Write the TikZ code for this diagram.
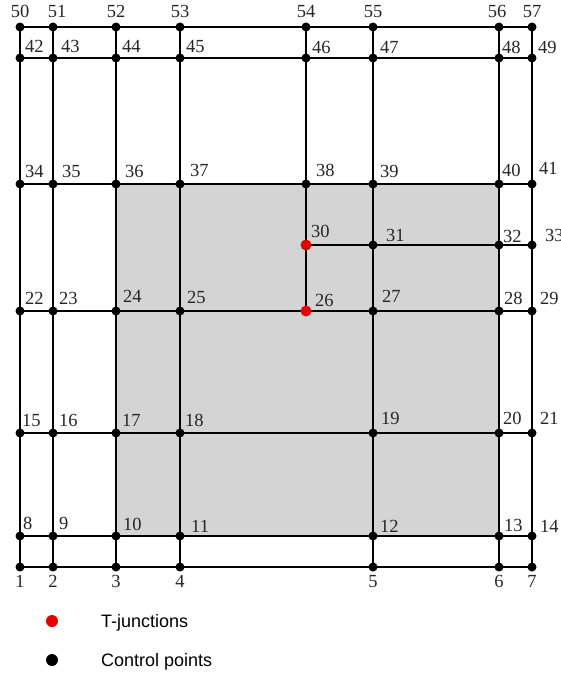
\documentclass[tikz,border=0pt]{standalone}
\usepackage{fontspec}
\setmainfont{Liberation Serif}
\newfontfamily\keyfont{Liberation Sans}
\usepackage{tikz}
\usetikzlibrary{backgrounds}
\definecolor{tjred}{RGB}{226,0,0}
\definecolor{panelgray}{RGB}{212,212,212}
\tikzset{
  cp/.style={circle, fill=black, inner sep=0, minimum size=9},
  tj/.style={circle, fill=tjred, inner sep=0, minimum size=11},
  num/.style={text=black!85, font=\fontsize{18.5}{20}\selectfont, inner sep=0, anchor=south west},
  keytext/.style={font=\keyfont\fontsize{18}{20}\selectfont, inner sep=0, anchor=base west},
  edge/.style={black, line width=1.5},
}

\begin{document}
\begin{tikzpicture}[x=1pt,y=-1pt]
\useasboundingbox (0,0) rectangle (561,674);
% control points, row by row
\foreach \n/\x in {1/20,2/53,3/116,4/180,5/373,6/499,7/532}
  \node[cp] (p\n) at (\x,567) {};
\foreach \n/\x in {8/20,9/53,10/116,11/180,12/373,13/499,14/532}
  \node[cp] (p\n) at (\x,536) {};
\foreach \n/\x in {15/20,16/53,17/116,18/180,19/373,20/499,21/532}
  \node[cp] (p\n) at (\x,433) {};
\foreach \n/\x in {22/20,23/53,24/116,25/180,27/373,28/499,29/532}
  \node[cp] (p\n) at (\x,311) {};
\foreach \n/\x in {31/373,32/499,33/532}
  \node[cp] (p\n) at (\x,245) {};
\foreach \n/\x in {34/20,35/53,36/116,37/180,38/306,39/373,40/499,41/532}
  \node[cp] (p\n) at (\x,184) {};
\foreach \n/\x in {42/20,43/53,44/116,45/180,46/306,47/373,48/499,49/532}
  \node[cp] (p\n) at (\x,58) {};
\foreach \n/\x in {50/20,51/53,52/116,53/180,54/306,55/373,56/499,57/532}
  \node[cp] (p\n) at (\x,27) {};
% T-junctions
\node[tj] (p26) at (306,311) {};
\node[tj] (p30) at (306,245) {};

% numbers
\foreach \n in {1,...,7}
  \node[num, anchor=north] (l\n) at ([shift={(0,8)}]p\n.center) {\n};
\foreach \n/\dx in {50/0,51/4,52/0,53/0,54/0,55/0,56/-2,57/0}
  \node[num, anchor=south] (l\n) at ([shift={(\dx,-9)}]p\n.center) {\n};
\foreach \n/\dx/\dy in {8/3/-6,9/6/-6,10/7/-5,11/11/-3,12/7/-3,13/5/-4,14/8/-3,
    15/2/-6,16/6/-6,17/6/-6,18/5/-6,19/8/-8,20/4/-8,21/8/-8,
    22/5/-6,23/6/-6,24/7/-8,25/7/-7,26/9/-4,27/9/-8,28/5/-6,29/8/-6,
    30/5/-7,31/13/-3,32/4/-2,33/13/-3,
    34/5/-6,35/9/-6,36/9/-6,37/10/-7,38/10/-7,39/7/-6,40/3/-7,41/7/-9,
    42/5/-5,43/8/-5,44/6/-5,45/6/-5,46/6/-4,47/7/-4,48/3/-4,49/6/-4}
  \node[num] (l\n) at ([shift={(\dx,\dy)}]p\n.center) {\n};

\begin{pgfonlayer}{background}
\fill[panelgray] (p10.center) rectangle (p40.center);
\foreach \a/\b in {1/7,8/14,15/21,22/29,30/33,34/41,42/49,50/57,
    1/50,2/51,3/52,4/53,26/54,5/55,6/56,7/57}
  \draw[edge] (p\a.center) -- (p\b.center);
\end{pgfonlayer}

% legend
\node[tj, minimum size=12] (keytj) at (52,621) {};
\node[keytext] (keytjlabel) at (101,627) {T-junctions};
\node[cp, minimum size=12] (keycp) at (52,660) {};
\node[keytext] (keycplabel) at (101,666) {Control points};
\end{tikzpicture}
\end{document}
